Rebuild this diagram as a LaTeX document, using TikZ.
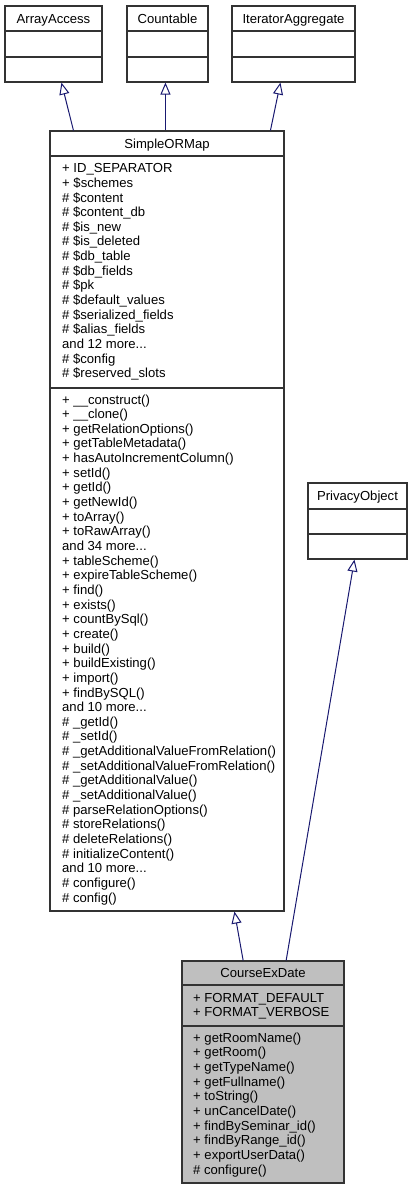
\documentclass[tikz,border=0pt]{standalone}
\usepackage{fontspec}
\setmainfont{Liberation Sans}
\usetikzlibrary{arrows.meta}
\definecolor{edgeblue}{HTML}{191970}
\definecolor{boxline}{HTML}{333333}
\definecolor{cedfill}{HTML}{BFBFBF}
\newcommand{\mydots}{...}
\tikzset{
  cls/.style={draw=boxline, line width=1.1pt, rectangle, inner sep=0pt, fill=white},
  sep/.style={draw=boxline, line width=1.1pt},
  txt/.style={anchor=west, inner sep=0pt, text height=9.4pt, text depth=0pt, font=\fontsize{13.1}{14.65}\selectfont},
  ttl/.style={anchor=center, inner sep=0pt, text height=9.4pt, text depth=0pt, font=\fontsize{13.1}{14.65}\selectfont},
  inh/.style={draw=edgeblue, line width=1pt, -{Triangle[open, length=12pt, width=10pt]}},
}
\begin{document}
\begin{tikzpicture}[x=1pt,y=-1pt]
\useasboundingbox (0,0) rectangle (418,1189);
% interface boxes
\node[cls, minimum width=97pt, minimum height=76pt] (aa) at (53.5,44) {};
\node[cls, minimum width=81pt, minimum height=76pt] (ct) at (167.5,44) {};
\node[cls, minimum width=123pt, minimum height=76pt] (ia) at (293.5,44) {};
\foreach \b in {aa,ct,ia} {
  \draw[sep] (\b.west |- 0,31) -- (\b.east |- 0,31);
  \draw[sep] (\b.west |- 0,57) -- (\b.east |- 0,57);
}
\node[ttl] (aat) at (53.5,18.5) {ArrayAccess};
\node[ttl] (ctt) at (167.5,18.5) {Countable};
\node[ttl] (iat) at (293.5,18.5) {IteratorAggregate};
% SimpleORMap
\node[cls, minimum width=234pt, minimum height=780pt] (som) at (167,521) {};
\draw[sep] (som.west |- 0,156) -- (som.east |- 0,156);
\draw[sep] (som.west |- 0,388) -- (som.east |- 0,388);
\node[ttl] (somt) at (167,143.5) {SimpleORMap};
\foreach \t [count=\i] in {{+ ID\_SEPARATOR},{+ \$schemes},{\# \$content},{\# \$content\_db},{\# \$is\_new},{\# \$is\_deleted},{\# \$db\_table},{\# \$db\_fields},{\# \$pk},{\# \$default\_values},{\# \$serialized\_fields},{\# \$alias\_fields},{and 12 more\mydots},{\# \$config},{\# \$reserved\_slots}}
  \node[txt, name=soma\i] at (62,{168+(\i-1)*14.65}) {\t};
\foreach \t [count=\i] in {{+ \_\_construct()},{+ \_\_clone()},{+ getRelationOptions()},{+ getTableMetadata()},{+ hasAutoIncrementColumn()},{+ setId()},{+ getId()},{+ getNewId()},{+ toArray()},{+ toRawArray()},{and 34 more\mydots},{+ tableScheme()},{+ expireTableScheme()},{+ find()},{+ exists()},{+ countBySql()},{+ create()},{+ build()},{+ buildExisting()},{+ import()},{+ findBySQL()},{and 10 more\mydots},{\# \_getId()},{\# \_setId()},{\# \_getAdditionalValueFromRelation()},{\# \_setAdditionalValueFromRelation()},{\# \_getAdditionalValue()},{\# \_setAdditionalValue()},{\# parseRelationOptions()},{\# storeRelations()},{\# deleteRelations()},{\# initializeContent()},{and 10 more\mydots},{\# configure()},{\# config()}}
  \node[txt, name=somm\i] at (62,{399.3+(\i-1)*14.65}) {\t};
% PrivacyObject
\node[cls, minimum width=99pt, minimum height=76pt] (po) at (357.5,521) {};
\draw[sep] (po.west |- 0,509) -- (po.east |- 0,509);
\draw[sep] (po.west |- 0,534) -- (po.east |- 0,534);
\node[ttl] (pot) at (357.5,496) {PrivacyObject};
% CourseExDate
\node[cls, fill=cedfill, minimum width=162pt, minimum height=222pt] (ced) at (263,1072) {};
\draw[sep] (ced.west |- 0,985) -- (ced.east |- 0,985);
\draw[sep] (ced.west |- 0,1026) -- (ced.east |- 0,1026);
\node[ttl] (cedt) at (263,972.5) {CourseExDate};
\foreach \t [count=\i] in {{+ FORMAT\_DEFAULT},{+ FORMAT\_VERBOSE}}
  \node[txt, name=ceda\i] at (193,{997.3+(\i-1)*14.67}) {\t};
\foreach \t [count=\i] in {{+ getRoomName()},{+ getRoom()},{+ getTypeName()},{+ getFullname()},{+ toString()},{+ unCancelDate()},{+ findBySeminar\_id()},{+ findByRange\_id()},{+ exportUserData()},{\# configure()}}
  \node[txt, name=cedm\i] at (193,{1037.3+(\i-1)*14.67}) {\t};
% inheritance arrows
\draw[inh] ([xshift=24pt]som.north west) -- ([xshift=57pt]aa.south west);
\draw[inh] ([xshift=116pt]som.north west) -- ([xshift=39pt]ct.south west);
\draw[inh] ([xshift=221pt]som.north west) -- ([xshift=49pt]ia.south west);
\draw[inh] ([xshift=61.7pt]ced.north west) -- ([xshift=185pt]som.south west);
\draw[inh] ([xshift=104.7pt]ced.north west) -- ([xshift=47pt]po.south west);
\end{tikzpicture}
\end{document}
